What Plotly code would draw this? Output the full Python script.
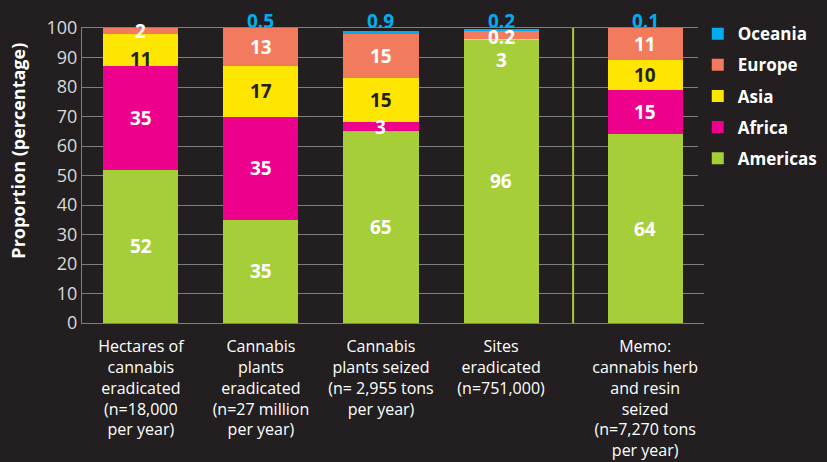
import plotly.graph_objects as go

# data
categories = [
    "Hectares of<br>cannabis<br>eradicated<br>(n=18,000<br>per year)",
    "Cannabis<br>plants<br>eradicated<br>(n=27 million<br>per year)",
    "Cannabis<br>plants seized<br>(n= 2,955 tons<br>per year)",
    "Sites<br>eradicated<br>(n=751,000)",
    "Memo:<br>cannabis herb<br>and resin<br>seized<br>(n=7,270 tons<br>per year)",
]
x_pos = [0, 1, 2, 3, 4.2]  # memo bar sits apart, behind a divider
divider_x = 3.6

americas = [52, 35, 65, 96, 64]
africa = [35, 35, 3, 0, 15]
asia = [11, 17, 15, 0.2, 10]
europe = [2, 13, 15, 3, 11]
oceania = [0, 0.5, 0.9, 0.2, 0.1]

series = [
    ("Americas", americas, "#A6CE39", "white"),
    ("Africa", africa, "#EC008C", "white"),
    ("Asia", asia, "#FFE600", "#231F20"),
    ("Europe", europe, "#F37B5D", "white"),
    ("Oceania", oceania, "#00AEEF", "#00AEEF"),
]

# label placements that Excel nudged away from the segment middle
label_y = {("Asia", 0): 89.5, ("Asia", 3): 97, ("Europe", 3): 89}
label_color = {("Asia", 3): "white"}

BG = "#231F20"
FONT = "Open Sans"

fig = go.Figure()
base = [0] * len(x_pos)
annotations = []
for rank, (name, vals, color, txt_color) in enumerate(series):
    fig.add_trace(
        go.Bar(
            x=x_pos,
            y=vals,
            name=name,
            marker=dict(color=color, line=dict(width=0)),
            width=0.625,
            legendgroup=name,
            legendrank=len(series) - rank,
        )
    )
    for i, v in enumerate(vals):
        if v == 0:
            continue
        if name == "Oceania":
            annotations.append(
                dict(x=x_pos[i], y=100, yanchor="bottom", yshift=-8, text=f"{v:g}",
                     showarrow=False, font=dict(color=txt_color, size=19, family=FONT, weight="bold"))
            )
        else:
            y = label_y.get((name, i), base[i] + v / 2)
            c = label_color.get((name, i), txt_color)
            annotations.append(
                dict(x=x_pos[i], y=y, text=f"{v:g}", showarrow=False,
                     font=dict(color=c, size=19, family=FONT, weight="bold"))
            )
        base[i] += v

# y title as annotation: sits a bit above the middle in the original
annotations.append(
    dict(text="Proportion (percentage)", textangle=-90, xref="paper", yref="paper",
         x=-0.1035, y=0.583, xanchor="center", yanchor="middle", showarrow=False,
         font=dict(size=18, color="white", family=FONT, weight="bold"))
)

fig.add_shape(type="line", x0=divider_x, x1=divider_x, y0=0, y1=100, xref="x", yref="y",
              line=dict(color="#A6CE39", width=2))

fig.update_layout(
    barmode="stack",
    width=827,
    height=462,
    paper_bgcolor=BG,
    plot_bgcolor=BG,
    margin=dict(l=82, r=123, t=28, b=139, autoexpand=False),
    font=dict(family=FONT, color="white"),
    annotations=annotations,
    legend=dict(
        x=0.99, y=1.04, xanchor="left", yanchor="top",
        traceorder="grouped", tracegroupgap=6,
        font=dict(size=17, color="white", family=FONT, weight="bold"),
        itemwidth=30,
    ),
    bargap=0,
)
fig.update_xaxes(
    tickvals=x_pos,
    ticktext=categories,
    range=[-0.49, 4.69],
    tickfont=dict(size=16, color="white"),
    ticklabelstandoff=9,
    showgrid=False,
    showline=True,
    linecolor="#7F7F7F",
    mirror=True,
    ticks="",
    automargin=False,
)
fig.update_yaxes(
    range=[0, 100],
    dtick=10,
    tickfont=dict(size=18, color="#D9D9D9"),
    gridcolor="#7F7F7F",
    showline=True,
    linecolor="#7F7F7F",
    zeroline=False,
    ticks="",
    automargin=False,
)

fig.write_html("out.html", config={"displayModeBar": False},
               post_script="document.body.style.margin='0';")
